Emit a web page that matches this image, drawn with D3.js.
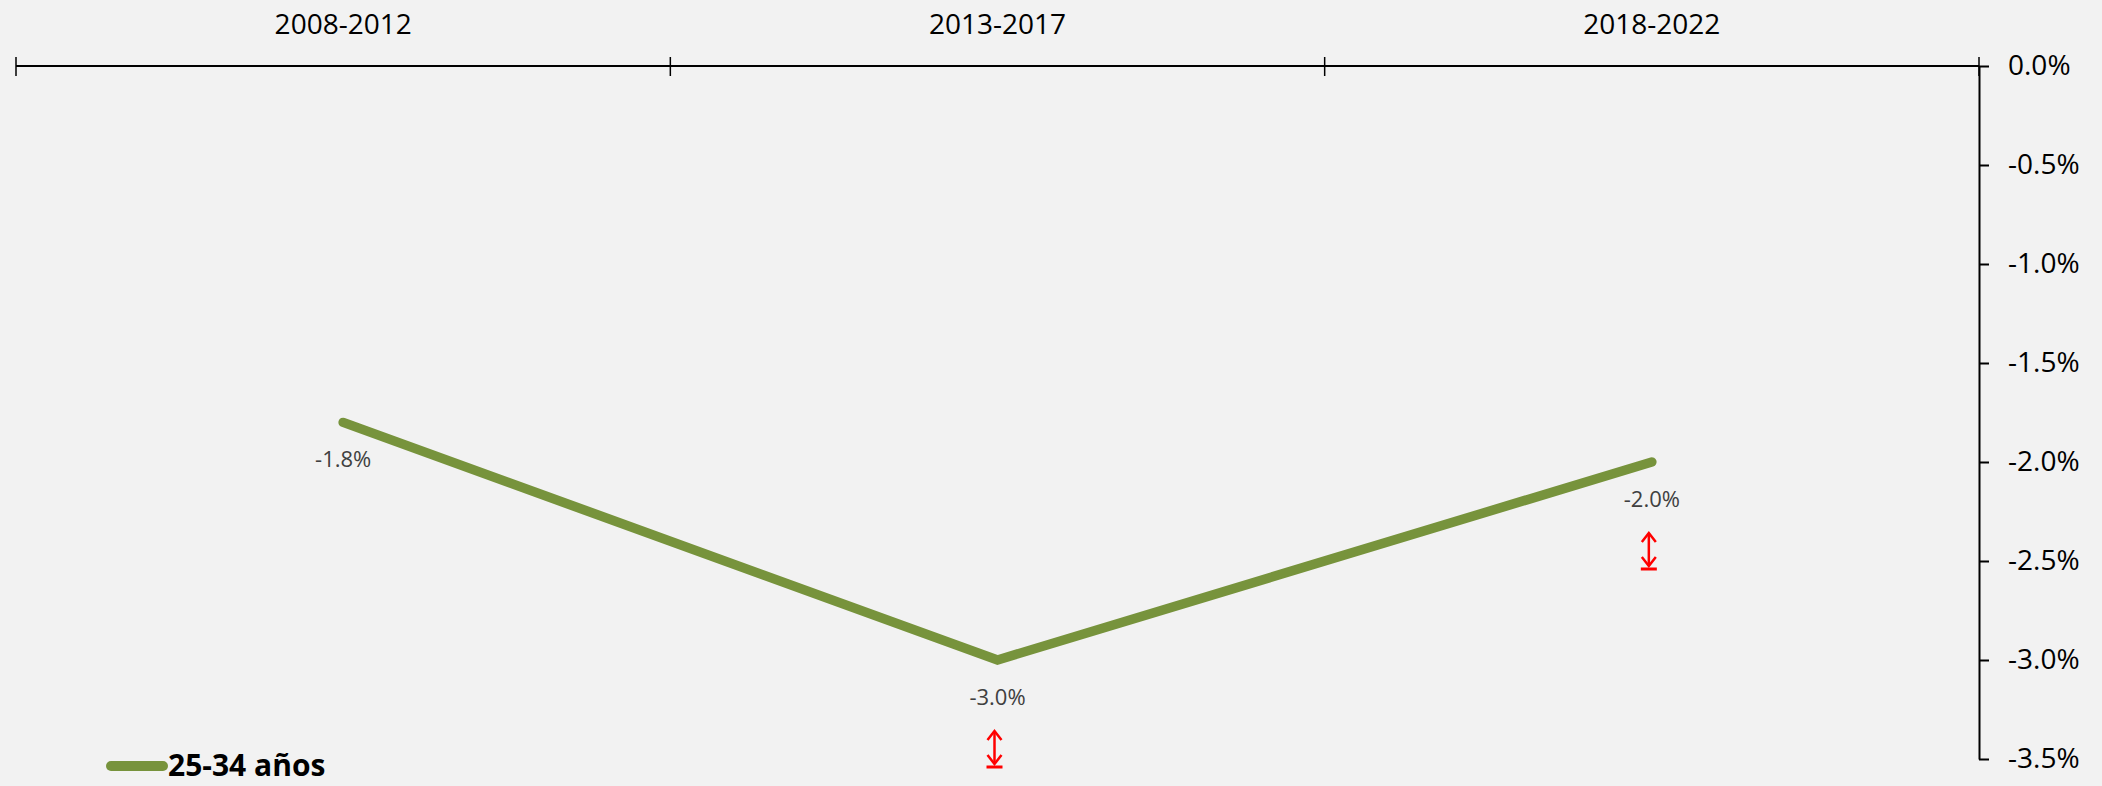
<!DOCTYPE html>
<html>
<head>
<meta charset="utf-8">
<script src="https://cdn.jsdelivr.net/npm/d3@7"></script>
<style>
  body { margin: 0; background: #f2f2f2; }
  text { font-family: "Open Sans", sans-serif; }
</style>
</head>
<body>
<div id="chart"></div>
<script>
// data
var periods = ['2008-2012', '2013-2017', '2018-2022'];
var values = [-1.8, -3.0, -2.0];
var seriesName = '25-34 años';
var showArrow = [false, true, true];
var yTicks = [0, -0.5, -1.0, -1.5, -2.0, -2.5, -3.0, -3.5];

var W = 2102, H = 786;
var green = '#77933c';

// d3.format gives a unicode minus, the chart uses a plain hyphen
function pct(v) { return d3.format('.1f')(v).replace('\u2212', '-') + '%'; }

var svg = d3.select('#chart')
    .append('svg')
    .attr('width', W)
    .attr('height', H);

svg.append('rect')
    .attr('width', W)
    .attr('height', H)
    .attr('fill', '#f2f2f2');

// scales
var x = d3.scaleBand()
    .domain(periods)
    .range([16, 1979])
    .padding(0);

var y = d3.scaleLinear()
    .domain([-3.5, 0])
    .range([759, 66]);

function cx(d) { return x(d) + x.bandwidth() / 2; }

// top category axis (labels only, ticks at band edges)
var xAxis = d3.axisTop(x).tickSize(0).tickPadding(32);
var gx = svg.append('g')
    .attr('transform', 'translate(0,' + y(0) + ')')
    .call(xAxis);
gx.select('.domain').remove();
gx.selectAll('text')
    .attr('font-size', 28)
    .attr('fill', '#000')
    .attr('font-family', '"Open Sans", sans-serif');

svg.append('line')
    .attr('x1', x.range()[0]).attr('x2', x.range()[1])
    .attr('y1', y(0)).attr('y2', y(0))
    .attr('stroke', '#000').attr('stroke-width', 2);

var edges = periods.map(function(p) { return x(p); }).concat([x.range()[1]]);
svg.selectAll('.edge')
    .data(edges)
    .enter().append('line')
    .attr('class', 'edge')
    .attr('x1', function(d) { return d; })
    .attr('x2', function(d) { return d; })
    .attr('y1', y(0) - 9)
    .attr('y2', y(0) + 10)
    .attr('stroke', '#000')
    .attr('stroke-width', 1.5);

// right value axis
var yAxis = d3.axisRight(y)
    .tickValues(yTicks)
    .tickSize(10)
    .tickSizeOuter(0)
    .tickPadding(19)
    .tickFormat(pct);

var gy = svg.append('g')
    .attr('transform', 'translate(' + x.range()[1] + ',0)')
    .call(yAxis);
gy.select('.domain').attr('stroke', '#000').attr('stroke-width', 2);
gy.selectAll('.tick line').attr('stroke', '#000').attr('stroke-width', 2);
gy.selectAll('text')
    .attr('font-size', 28)
    .attr('fill', '#000')
    .attr('font-family', '"Open Sans", sans-serif');

// line
var pts = periods.map(function(p, i) { return { p: p, v: values[i], arrow: showArrow[i] }; });

var line = d3.line()
    .x(function(d) { return cx(d.p); })
    .y(function(d) { return y(d.v); });

svg.append('path')
    .datum(pts)
    .attr('d', line)
    .attr('fill', 'none')
    .attr('stroke', green)
    .attr('stroke-width', 9.5)
    .attr('stroke-linecap', 'round')
    .attr('stroke-linejoin', 'miter');

// data labels
svg.selectAll('.lbl')
    .data(pts)
    .enter().append('text')
    .attr('class', 'lbl')
    .attr('x', function(d) { return cx(d.p); })
    .attr('y', function(d) { return y(d.v) + 45; })
    .attr('text-anchor', 'middle')
    .attr('font-size', 22)
    .attr('fill', '#404040')
    .text(function(d) { return pct(d.v); });

// red up/down arrows under some points
var arrows = svg.selectAll('.arrow')
    .data(pts.filter(function(d) { return d.arrow; }))
    .enter().append('g')
    .attr('class', 'arrow')
    .attr('transform', function(d) { return 'translate(' + (cx(d.p) - 3) + ',' + (y(d.v) + 70) + ')'; })
    .attr('stroke', '#ff0000')
    .attr('fill', 'none')
    .attr('stroke-width', 2.5);

arrows.append('line').attr('x1', 0).attr('x2', 0).attr('y1', 1).attr('y2', 34);
arrows.append('path').attr('d', 'M-7,10L0,1L7,10');
arrows.append('path').attr('d', 'M-7,25L0,34L7,25');
arrows.append('line').attr('x1', -8).attr('x2', 8).attr('y1', 37).attr('y2', 37).attr('stroke-width', 3);

// legend
var legend = svg.append('g').attr('transform', 'translate(0,766)');
legend.append('line')
    .attr('x1', 111).attr('x2', 163)
    .attr('y1', 0).attr('y2', 0)
    .attr('stroke', green)
    .attr('stroke-width', 10)
    .attr('stroke-linecap', 'round');
legend.append('text')
    .attr('x', 168)
    .attr('y', 10)
    .attr('font-size', 30)
    .attr('font-weight', 'bold')
    .attr('fill', '#000')
    .text(seriesName);
</script>
</body>
</html>
